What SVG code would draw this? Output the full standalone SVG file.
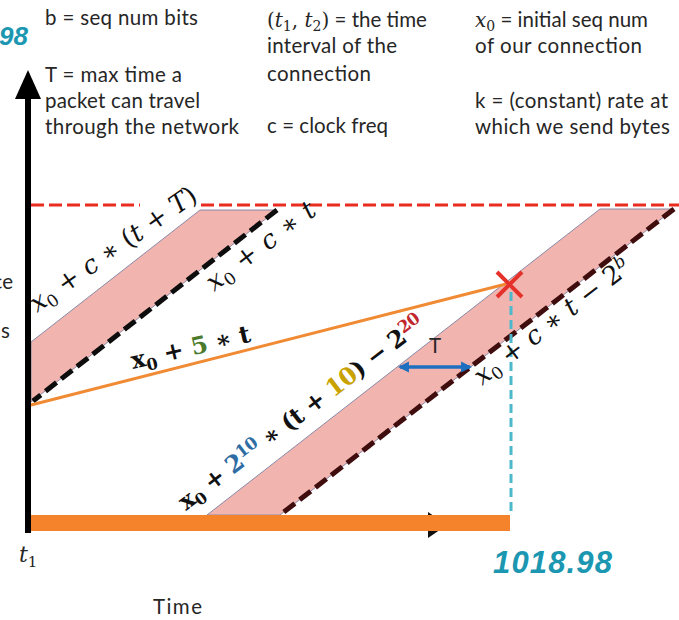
<svg xmlns="http://www.w3.org/2000/svg" width="679" height="620" viewBox="0 0 679 620">
<style>
.txt{font-family:Lato,"Open Sans","Liberation Sans",sans-serif;font-size:20.5px;fill:#262626}
.m{font-family:"DejaVu Serif","Liberation Serif",serif;font-style:italic;font-size:26px;fill:#111}
.mb{font-family:"DejaVu Serif","Liberation Serif",serif;font-weight:bold;font-size:24px;fill:#111}
.lm{font-family:"DejaVu Serif","Liberation Serif",serif;font-style:italic;fill:#262626}
.up{font-style:normal}
.num{font-family:"Liberation Sans",Arial,sans-serif;font-weight:bold;font-style:italic;fill:#1b97b2}
.band{fill:#f1b4ae;stroke:#8a8aa8;stroke-width:1}
</style>
<defs>
<marker id="ah" viewBox="0 0 10 10" refX="8" refY="5" markerWidth="3.2" markerHeight="3.2" orient="auto-start-reverse">
<path d="M0,0 L10,5 L0,10 z" fill="#1f6fc0"/>
</marker>
</defs>
<rect width="679" height="620" fill="#fff"/>

<g id="legend">
<text class="txt" x="45" y="25" textLength="153">b = seq num bits</text>
<text class="txt" x="45" y="82" textLength="137">T = max time a</text>
<text class="txt" x="45" y="108" textLength="155">packet can travel</text>
<text class="txt" x="45" y="134" textLength="194">through the network</text>

<text class="txt" x="267" y="27"><tspan class="lm up" font-size="20">(</tspan><tspan class="lm" font-size="20">t</tspan><tspan class="lm up" font-size="14" dy="4">1</tspan><tspan class="lm up" font-size="20" dy="-4">, </tspan><tspan class="lm" font-size="20">t</tspan><tspan class="lm up" font-size="14" dy="4">2</tspan><tspan class="lm up" font-size="20" dy="-4">)</tspan><tspan> = the time</tspan></text>
<text class="txt" x="267" y="53" textLength="130">interval of the</text>
<text class="txt" x="267" y="81" textLength="104">connection</text>
<text class="txt" x="267" y="133" textLength="121">c = clock freq</text>

<text class="txt" x="475" y="27"><tspan class="lm" font-size="20">x</tspan><tspan class="lm up" font-size="14" dy="4">0</tspan><tspan dy="-4"> = initial seq num</tspan></text>
<text class="txt" x="475" y="53" textLength="167">of our connection</text>
<text class="txt" x="475" y="108" textLength="193">k = (constant) rate at</text>
<text class="txt" x="475" y="134" textLength="195">which we send bytes</text>
</g>

<g id="clipped-labels">
<text class="num" x="28" y="45" font-size="26" text-anchor="end">98</text>
<text class="txt" x="13" y="289" font-size="22" text-anchor="end">ce</text>
<text class="txt" x="10" y="338" font-size="22" text-anchor="end">s</text>
</g>

<g id="band1">
<polygon class="band" points="31,342 200,210 277,210 31,402"/>
</g>
<g id="band2">
<polygon class="band" points="207,515 600,209 674,209 280,515"/>
</g>

<g id="connectors">
<line x1="31" y1="205" x2="140" y2="205" stroke="#e82d1f" stroke-width="3" stroke-dasharray="13 5"/>
<line x1="201" y1="205" x2="679" y2="205" stroke="#e82d1f" stroke-width="3" stroke-dasharray="13 5"/>
<line x1="277" y1="210" x2="33" y2="401" stroke="#0d0d0d" stroke-width="5" stroke-dasharray="14 6"/>
<line x1="674" y1="209" x2="280" y2="515" stroke="#3f0d0d" stroke-width="5" stroke-dasharray="14 6"/>
<line x1="31" y1="405" x2="506" y2="284" stroke="#f08a33" stroke-width="3"/>
<line x1="511" y1="292" x2="511" y2="515" stroke="#4db8cc" stroke-width="3" stroke-dasharray="9 5"/>
<line x1="400" y1="367" x2="470" y2="367" stroke="#1f6fc0" stroke-width="3.5" marker-start="url(#ah)" marker-end="url(#ah)"/>
<polygon points="428,512 447,525 428,538" fill="#111"/>
<rect x="31" y="515" width="479" height="16" fill="#f5832b"/>
<line x1="28" y1="96" x2="28" y2="533" stroke="#000" stroke-width="6"/>
<polygon points="28,70 41,99 15,99" fill="#000"/>
<line x1="497" y1="272" x2="522" y2="297" stroke="#e4312a" stroke-width="4"/>
<line x1="497" y1="297" x2="522" y2="272" stroke="#e4312a" stroke-width="4"/>
</g>

<g id="labels">
<text class="m" transform="translate(37,313) rotate(-35)" textLength="198">x<tspan font-size="17" dy="5" class="up">0</tspan><tspan dy="-5" class="up"> + </tspan>c<tspan class="up"> ∗ (</tspan>t<tspan class="up"> + </tspan>T<tspan class="up">)</tspan></text>
<text class="m" transform="translate(214,292) rotate(-37)" textLength="130">x<tspan font-size="17" dy="5" class="up">0</tspan><tspan dy="-5" class="up"> + </tspan>c<tspan class="up"> ∗ </tspan>t</text>
<text class="mb" transform="translate(133,369) rotate(-13)" textLength="122">x<tspan font-size="16" dy="5">0</tspan><tspan dy="-5"> + </tspan><tspan fill="#4b7a2c">5</tspan> ∗ t</text>
<text class="mb" transform="translate(186,511) rotate(-37.5)" textLength="303">x<tspan font-size="16" dy="5">0</tspan><tspan dy="-5"> + </tspan><tspan fill="#2e6da4">2</tspan><tspan fill="#2e6da4" font-size="17" dy="-8">10</tspan><tspan dy="8"> ∗ (t + </tspan><tspan fill="#c9a200">10</tspan>) − 2<tspan fill="#c0282d" font-size="17" dy="-8">20</tspan></text>
<text class="m" transform="translate(482,386) rotate(-37.5)" textLength="190">x<tspan font-size="17" dy="5" class="up">0</tspan><tspan dy="-5" class="up"> + </tspan>c<tspan class="up"> ∗ </tspan>t<tspan class="up"> − 2</tspan><tspan font-size="17" dy="-9">b</tspan></text>
<text class="txt" x="435" y="353" font-size="15" text-anchor="middle">T</text>
</g>

<g id="axis-labels">
<text class="lm" x="19" y="562" font-size="22">t<tspan font-size="15" dy="5" class="up">1</tspan></text>
<text class="txt" x="153" y="614" font-size="24" textLength="49">Time</text>
<text class="num" x="493" y="573" font-size="31" textLength="119">1018.98</text>
</g>
</svg>
